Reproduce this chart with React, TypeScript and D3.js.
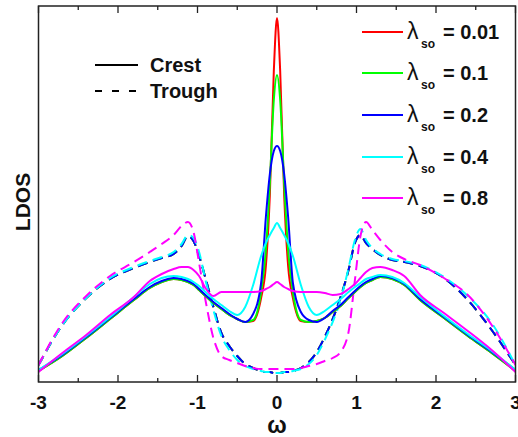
import React from 'react';
import * as d3 from 'd3';

// omega grid shared by every curve
const omega = [
  -3, -2.7, -2.4, -2.1, -1.8, -1.6, -1.45, -1.3, -1.2, -1.12, -1.05, -0.98, -0.9, -0.8, -0.7, -0.6, -0.5, -0.4, -0.3, -0.2, -0.14, -0.09, -0.04,
  0,
  0.04, 0.09, 0.14, 0.2, 0.3, 0.4, 0.5, 0.6, 0.7, 0.8, 0.9, 0.98, 1.05, 1.12, 1.2, 1.3, 1.45, 1.6, 1.8, 2.1, 2.4, 2.7, 3,
];

const lambdas = ['0.01', '0.1', '0.2', '0.4', '0.8'];
const colors = ['#ff0000', '#00ff00', '#0000ff', '#00ffff', '#ff00ff'];

// crest (solid)
const crest001 = [
  0.11, 0.26, 0.44, 0.63, 0.82, 0.94, 1.00, 1.03, 1.02, 1.00, 0.97, 0.92, 0.86, 0.79, 0.73, 0.67, 0.63, 0.60, 0.61, 0.84, 1.16, 1.87, 3.11,
  3.64,
  3.11, 1.87, 1.16, 0.84, 0.61, 0.60, 0.61, 0.64, 0.70, 0.76, 0.84, 0.90, 0.95, 0.99, 1.02, 1.05, 1.03, 0.97, 0.82, 0.64, 0.46, 0.29, 0.11,
];
const crest01 = [
  0.11, 0.26, 0.44, 0.63, 0.82, 0.94, 1.00, 1.03, 1.02, 1.00, 0.97, 0.92, 0.86, 0.79, 0.73, 0.67, 0.63, 0.60, 0.62, 0.90, 1.32, 1.99, 2.82,
  3.07,
  2.82, 1.99, 1.32, 0.90, 0.62, 0.60, 0.61, 0.64, 0.70, 0.76, 0.84, 0.90, 0.95, 0.99, 1.02, 1.05, 1.03, 0.97, 0.82, 0.64, 0.46, 0.29, 0.11,
];
const crest02 = [
  0.12, 0.27, 0.45, 0.64, 0.83, 0.95, 1.01, 1.04, 1.03, 1.01, 0.98, 0.93, 0.87, 0.80, 0.74, 0.68, 0.63, 0.60, 0.68, 0.99, 1.65, 2.08, 2.31,
  2.36,
  2.31, 2.08, 1.65, 0.99, 0.70, 0.62, 0.60, 0.64, 0.71, 0.77, 0.85, 0.91, 0.96, 1.00, 1.03, 1.06, 1.04, 0.98, 0.83, 0.65, 0.47, 0.30, 0.12,
];
const crest04 = [
  0.12, 0.28, 0.46, 0.65, 0.85, 0.98, 1.04, 1.06, 1.05, 1.03, 1.00, 0.96, 0.90, 0.83, 0.77, 0.71, 0.67, 0.75, 0.97, 1.26, 1.39, 1.47, 1.54,
  1.59,
  1.54, 1.47, 1.39, 1.26, 0.97, 0.75, 0.67, 0.71, 0.77, 0.83, 0.90, 0.95, 0.99, 1.03, 1.05, 1.07, 1.05, 0.99, 0.85, 0.66, 0.48, 0.31, 0.12,
];
const crest08 = [
  0.10, 0.29, 0.47, 0.67, 0.85, 1.01, 1.08, 1.13, 1.15, 1.15, 1.12, 1.06, 0.94, 0.86, 0.90, 0.90, 0.90, 0.90, 0.90, 0.91, 0.93, 0.95, 0.98,
  1.00,
  0.98, 0.95, 0.93, 0.91, 0.90, 0.90, 0.90, 0.89, 0.87, 0.88, 0.93, 0.98, 1.04, 1.10, 1.14, 1.15, 1.12, 1.06, 0.87, 0.69, 0.51, 0.32, 0.10,
];

// trough (dashed)
const trough001 = [
  0.17, 0.57, 0.84, 1.03, 1.14, 1.20, 1.24, 1.28, 1.36, 1.46, 1.41, 1.26, 1.04, 0.75, 0.49, 0.36, 0.26, 0.18, 0.14, 0.11, 0.10, 0.10, 0.09,
  0.09,
  0.09, 0.10, 0.10, 0.11, 0.14, 0.20, 0.30, 0.45, 0.63, 0.85, 1.12, 1.39, 1.47, 1.39, 1.33, 1.27, 1.22, 1.20, 1.16, 1.04, 0.82, 0.52, 0.17,
];
const trough01 = [
  0.17, 0.57, 0.84, 1.03, 1.14, 1.20, 1.24, 1.28, 1.36, 1.46, 1.41, 1.26, 1.04, 0.75, 0.49, 0.36, 0.26, 0.18, 0.14, 0.11, 0.10, 0.10, 0.09,
  0.09,
  0.09, 0.10, 0.10, 0.11, 0.14, 0.20, 0.30, 0.45, 0.63, 0.85, 1.12, 1.39, 1.47, 1.39, 1.33, 1.27, 1.22, 1.20, 1.16, 1.04, 0.82, 0.52, 0.17,
];
const trough02 = [
  0.17, 0.57, 0.84, 1.03, 1.14, 1.20, 1.24, 1.28, 1.36, 1.46, 1.41, 1.26, 1.04, 0.75, 0.49, 0.36, 0.26, 0.18, 0.14, 0.11, 0.10, 0.10, 0.09,
  0.09,
  0.09, 0.10, 0.10, 0.11, 0.14, 0.20, 0.30, 0.45, 0.63, 0.85, 1.12, 1.39, 1.47, 1.39, 1.33, 1.27, 1.22, 1.20, 1.16, 1.04, 0.82, 0.52, 0.17,
];
const trough04 = [
  0.17, 0.57, 0.84, 1.04, 1.15, 1.21, 1.25, 1.30, 1.38, 1.47, 1.44, 1.30, 1.02, 0.72, 0.46, 0.32, 0.22, 0.16, 0.13, 0.11, 0.10, 0.10, 0.09,
  0.09,
  0.09, 0.10, 0.10, 0.11, 0.13, 0.18, 0.27, 0.42, 0.60, 0.82, 1.14, 1.42, 1.53, 1.42, 1.34, 1.28, 1.23, 1.21, 1.17, 1.05, 0.86, 0.59, 0.17,
];
const trough08 = [
  0.17, 0.59, 0.86, 1.06, 1.20, 1.30, 1.38, 1.47, 1.56, 1.60, 1.50, 1.19, 0.82, 0.44, 0.26, 0.22, 0.19, 0.16, 0.14, 0.13, 0.13, 0.13, 0.13,
  0.13,
  0.13, 0.13, 0.13, 0.13, 0.14, 0.16, 0.18, 0.21, 0.24, 0.30, 0.50, 1.02, 1.46, 1.60, 1.52, 1.42, 1.30, 1.23, 1.17, 1.04, 0.87, 0.57, 0.17,
];

const crestSeries = [crest001, crest01, crest02, crest04, crest08];
const troughSeries = [trough001, trough01, trough02, trough04, trough08];

const xTicks = [-3, -2, -1, 0, 1, 2, 3];
const xMinor = [-2.5, -1.5, -0.5, 0.5, 1.5, 2.5];

const W = 518;
const H = 437;
const left = 38.5;
const right = 515.5;
const top = 6;
const bottom = 382;

export default function App() {
  const x = d3.scaleLinear().domain([-3, 3]).range([left, right]);
  const y = d3.scaleLinear().domain([0, 3.76]).range([bottom, top]);

  const line = d3
    .line<number>()
    .x((_, i) => x(omega[i]))
    .y((d) => y(d))
    .curve(d3.curveMonotoneX);

  const font = 'Liberation Sans, Arial, sans-serif';
  const legendRows = [32, 73, 115, 157, 198];

  return (
    <svg
      width={W}
      height={H}
      style={{ position: 'absolute', left: 0, top: 0, background: '#fff' }}
      fontFamily={font}
    >
      <defs>
        <clipPath id="plot">
          <rect x={left} y={top} width={right - left} height={bottom - top} />
        </clipPath>
      </defs>

      <g clipPath="url(#plot)" fill="none">
        {troughSeries.map((s, i) => (
          <path key={'t' + i} d={line(s) || ''} stroke={colors[i]} strokeWidth={2} strokeDasharray="10,6" />
        ))}
        {crestSeries.map((s, i) => (
          <path key={'c' + i} d={line(s) || ''} stroke={colors[i]} strokeWidth={2} />
        ))}
      </g>

      {/* frame */}
      <rect x={left} y={top} width={right - left} height={bottom - top} fill="none" stroke="#222" strokeWidth={1.5} />

      {/* ticks, bottom and top, pointing inward */}
      {xTicks.map((t) => (
        <g key={'M' + t} stroke="#222" strokeWidth={1.3}>
          <line x1={x(t)} x2={x(t)} y1={bottom} y2={bottom - 7} />
          <line x1={x(t)} x2={x(t)} y1={top} y2={top + 7} />
        </g>
      ))}
      {xMinor.map((t) => (
        <g key={'m' + t} stroke="#222" strokeWidth={1.3}>
          <line x1={x(t)} x2={x(t)} y1={bottom} y2={bottom - 4} />
          <line x1={x(t)} x2={x(t)} y1={top} y2={top + 4} />
        </g>
      ))}
      {xTicks.map((t) => (
        <text key={'l' + t} x={x(t)} y={409} textAnchor="middle" fontSize={19} fontWeight="bold" fill="#111">
          {t}
        </text>
      ))}

      <text x={x(0)} y={433} textAnchor="middle" fontSize={23} fontWeight="bold" fill="#111">
        ω
      </text>
      <text
        transform="translate(30,202) rotate(-90)"
        textAnchor="middle"
        fontSize={21}
        fontWeight="bold"
        fill="#111"
      >
        LDOS
      </text>

      {/* line style legend */}
      <line x1={95} x2={138} y1={65} y2={65} stroke="#000" strokeWidth={2} />
      <line x1={95} x2={136} y1={91} y2={91} stroke="#000" strokeWidth={2} strokeDasharray="7,10" />
      <text x={150} y={72} fontSize={20} fontWeight="bold" fill="#111">Crest</text>
      <text x={150} y={98} fontSize={20} fontWeight="bold" fill="#111">Trough</text>

      {/* lambda legend */}
      {lambdas.map((l, i) => (
        <g key={'lg' + i}>
          <line x1={362} x2={403} y1={legendRows[i]} y2={legendRows[i]} stroke={colors[i]} strokeWidth={2} />
          <text x={407} y={legendRows[i] + 7} fontSize={23} fill="#111">λ</text>
          <text x={421} y={legendRows[i] + 16} fontSize={12} fontWeight="bold" fill="#111">so</text>
          <text x={443} y={legendRows[i] + 7} fontSize={20} fontWeight="bold" fill="#111">= {l}</text>
        </g>
      ))}
    </svg>
  );
}
